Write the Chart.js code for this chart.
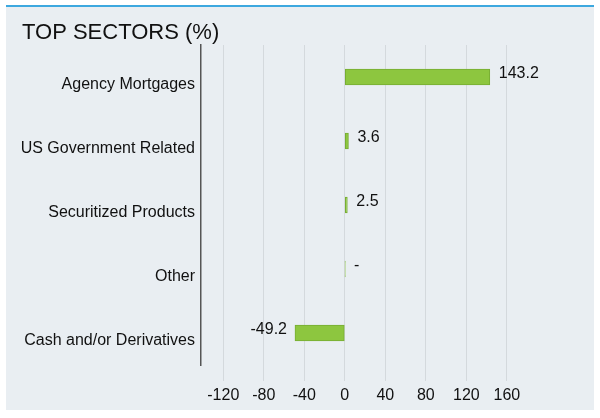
<!DOCTYPE html>
<html lang="en">
<head>
    <meta charset="UTF-8">
    <title>Top Sectors</title>
</head>
<style>
    body {
        background-color: #ffffff;
        margin: 0;
        padding: 0;
    }
    .panel {
        position: absolute;
        left: 6px;
        top: 5px;
        width: 588px;
        height: 403px;
        background-color: #e9eef2;
        border-top: 2px solid #3da8df;
    }
    .panel canvas {
        display: block;
    }
</style>
<script src="https://cdn.jsdelivr.net/npm/chart.js"></script>
<body>
    <div class="panel">
        <canvas id="chart" width="588" height="403"></canvas>
    </div>

    <script>
        // sectors, top to bottom
        const sectors = ['Agency Mortgages', 'US Government Related', 'Securitized Products', 'Other', 'Cash and/or Derivatives'];
        const weights = [143.2, 3.6, 2.5, 0.2, -49.2];
        const weightLabels = ['143.2', '3.6', '2.5', '-', '-49.2'];
        const xTicks = [-120, -80, -40, 0, 40, 80, 120, 160];

        const font = 'Liberation Sans, Arial, sans-serif';

        // value text next to each bar
        const valueLabels = {
            id: 'valueLabels',
            afterDatasetsDraw(chart) {
                const ctx = chart.ctx;
                const meta = chart.getDatasetMeta(0);
                ctx.save();
                ctx.font = '16px ' + font;
                ctx.fillStyle = '#111';
                ctx.textBaseline = 'middle';
                meta.data.forEach((bar, i) => {
                    const v = weights[i];
                    const y = bar.y - 3;
                    if (v < 0) {
                        ctx.textAlign = 'right';
                        ctx.fillText(weightLabels[i], bar.x - 8, y);
                    } else {
                        ctx.textAlign = 'left';
                        ctx.fillText(weightLabels[i], bar.x + 9, y);
                    }
                });
                ctx.restore();
            }
        };

        const ctx = document.getElementById('chart').getContext('2d');
        const chart = new Chart(ctx, {
            type: 'bar',
            data: {
                labels: sectors,
                datasets: [{
                    data: weights,
                    backgroundColor: '#8dc63f',
                    borderColor: '#77ad33',
                    borderWidth: 1,
                    borderSkipped: false,
                    barThickness: 16
                }]
            },
            options: {
                indexAxis: 'y',
                responsive: false,
                animation: false,
                devicePixelRatio: 1,
                layout: {
                    padding: { left: 16, right: 34.5, top: 0, bottom: 5 }
                },
                plugins: {
                    legend: { display: false },
                    tooltip: { enabled: false },
                    title: {
                        display: true,
                        text: 'TOP SECTORS (%)',
                        align: 'start',
                        color: '#111',
                        font: { family: font, size: 22, weight: 'normal', lineHeight: 1.0 },
                        padding: { top: 15, bottom: 1 }
                    }
                },
                scales: {
                    x: {
                        min: -142,
                        max: 212,
                        afterBuildTicks: (scale) => {
                            scale.ticks = xTicks.map(v => ({ value: v }));
                        },
                        afterFit: (scale) => { scale.height = 40; },
                        grid: {
                            color: '#d4d9dd',
                            lineWidth: 1,
                            tickLength: 16,
                            tickColor: '#d4d9dd'
                        },
                        border: { display: false },
                        ticks: {
                            color: '#111',
                            padding: 5,
                            maxRotation: 0,
                            font: { family: font, size: 16 }
                        }
                    },
                    y: {
                        afterFit: (scale) => { scale.width = 179; },
                        grid: { display: false, drawTicks: false },
                        border: { display: true, color: '#555', width: 1.5 },
                        ticks: {
                            color: '#111',
                            padding: 6,
                            labelOffset: 8,
                            font: { family: font, size: 16 }
                        }
                    }
                }
            },
            plugins: [valueLabels]
        });
    </script>
</body>
</html>
